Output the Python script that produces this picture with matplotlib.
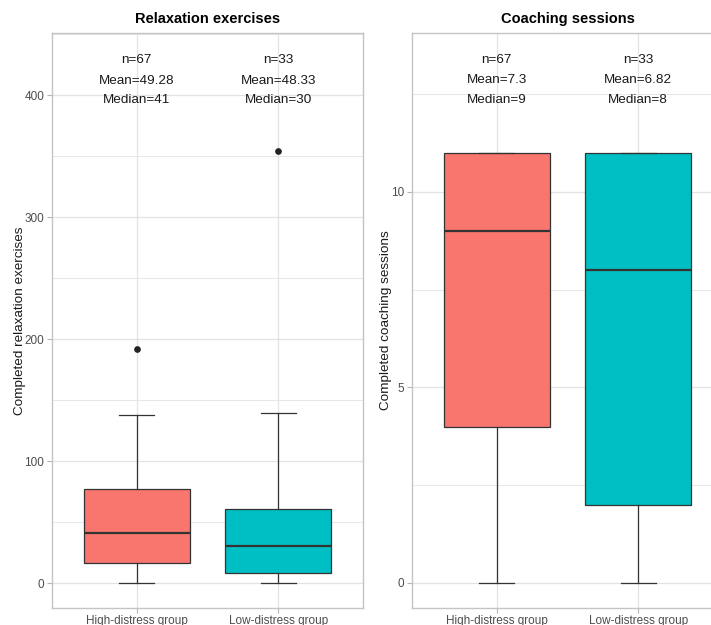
import matplotlib.pyplot as plt
import numpy as np

plt.rcParams['font.family'] = ['Liberation Sans', 'DejaVu Sans']

groups = ['High-distress group', 'Low-distress group']
colors = ['#F8766D', '#00BFC4']

# Relaxation exercises (box stats)
rel_q1 = [16, 8.5]
rel_med = [41, 30]
rel_q3 = [77, 61]
rel_lo = [0, 0]
rel_hi = [137.5, 139.5]
rel_out = [[192], [354]]
rel_n = [67, 33]
rel_mean = ['49.28', '48.33']
rel_median = [41, 30]

# Coaching sessions
coa_q1 = [4, 2]
coa_med = [9, 8]
coa_q3 = [11, 11]
coa_lo = [0, 0]
coa_hi = [11, 11]
coa_out = [[], []]
coa_n = [67, 33]
coa_mean = ['7.3', '6.82']
coa_median = [9, 8]


def panel(ax, title, ylabel, q1, med, q3, lo, hi, out, n, mean, median,
          ylim, major, minor, text_y):
    stats = []
    for i in range(len(groups)):
        stats.append(dict(q1=q1[i], med=med[i], q3=q3[i], whislo=lo[i],
                          whishi=hi[i], fliers=out[i], label=groups[i]))
    ax.set_axisbelow(True)
    bp = ax.bxp(stats, positions=[1, 2], widths=0.75, capwidths=0.25,
                patch_artist=True, showfliers=True,
                boxprops=dict(edgecolor='#333333', linewidth=0.9),
                medianprops=dict(color='#333333', linewidth=1.6),
                whiskerprops=dict(color='#333333', linewidth=0.9),
                capprops=dict(color='#333333', linewidth=0.9),
                flierprops=dict(marker='o', markerfacecolor='#222222',
                                markeredgecolor='#222222', markersize=3.8))
    for patch, c in zip(bp['boxes'], colors):
        patch.set_facecolor(c)
    for i in range(len(groups)):
        ax.text(i + 1, text_y[0], f'n={n[i]}', ha='center', va='center', fontsize=9.7, color='#1a1a1a')
        ax.text(i + 1, text_y[1], f'Mean={mean[i]}', ha='center', va='center', fontsize=9.7, color='#1a1a1a')
        ax.text(i + 1, text_y[2], f'Median={median[i]}', ha='center', va='center', fontsize=9.7, color='#1a1a1a')
    ax.set_xlim(0.4, 2.6)
    ax.set_ylim(*ylim)
    ax.set_yticks(major)
    ax.set_yticks(minor, minor=True)
    ax.set_xticks([1, 2])
    ax.set_xticklabels(groups)
    ax.grid(True, which='major', color='#E3E3E3', linewidth=0.9)
    ax.grid(True, which='minor', axis='y', color='#E3E3E3', linewidth=0.6)
    ax.tick_params(which='major', length=3.5, width=0.8, color='#B3B3B3',
                   labelcolor='#4D4D4D', labelsize=8.5, pad=2)
    ax.tick_params(axis='x', pad=1.5)
    ax.tick_params(which='minor', length=0)
    for s in ax.spines.values():
        s.set_color('#C4C4C4')
        s.set_linewidth(1.0)
    ax.set_title(title, fontsize=10.5, fontweight='bold', pad=7)
    ax.set_ylabel(ylabel, fontsize=9.7, color='#1a1a1a', labelpad=-0.8)


fig = plt.figure(figsize=(7.11, 6.25), dpi=100)
ax1 = fig.add_axes([52 / 711, 17 / 625, 311 / 711, 575 / 625])
ax2 = fig.add_axes([412 / 711, 17 / 625, 311 / 711, 575 / 625])

panel(ax1, 'Relaxation exercises', 'Completed relaxation exercises',
      rel_q1, rel_med, rel_q3, rel_lo, rel_hi, rel_out, rel_n, rel_mean, rel_median,
      (-20.5, 451), [0, 100, 200, 300, 400], [50, 150, 250, 350, 450],
      [428.5, 412, 396])
panel(ax2, 'Coaching sessions', 'Completed coaching sessions',
      coa_q1, coa_med, coa_q3, coa_lo, coa_hi, coa_out, coa_n, coa_mean, coa_median,
      (-0.64, 14.06), [0, 5, 10], [2.5, 7.5, 12.5],
      [13.37, 12.86, 12.35])

fig.savefig('out.png', dpi=100)
